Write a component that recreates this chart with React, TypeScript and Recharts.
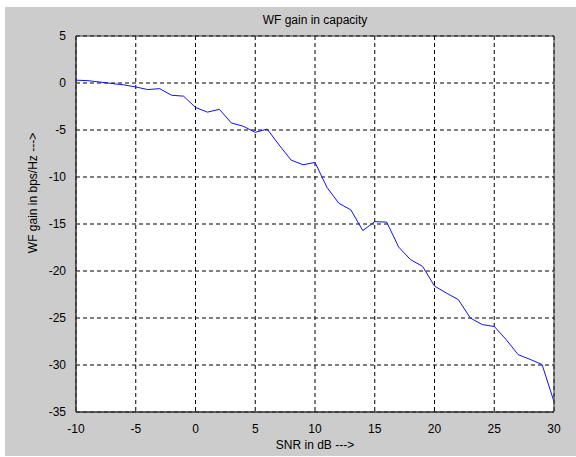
import React from 'react';
import {
  LineChart,
  Line,
  XAxis,
  YAxis,
  CartesianGrid,
  ReferenceArea,
} from 'recharts';

// SNR in dB, 1 dB steps
const snr = [
  -10, -9, -8, -7, -6, -5, -4, -3, -2, -1,
  0, 1, 2, 3, 4, 5, 6, 7, 8, 9,
  10, 11, 12, 13, 14, 15, 16, 17, 18, 19,
  20, 21, 22, 23, 24, 25, 26, 27, 28, 29, 30,
];

// WF gain in bps/Hz
const gain = [
  0.3, 0.25, 0.1, -0.05, -0.2, -0.42, -0.7, -0.6, -1.3, -1.4,
  -2.6, -3.1, -2.8, -4.25, -4.6, -5.25, -4.9, -6.6, -8.2, -8.7,
  -8.45, -11.1, -12.8, -13.5, -15.7, -14.75, -14.8, -17.45, -18.8, -19.5,
  -21.6, -22.35, -23.05, -25.0, -25.7, -25.9, -27.3, -28.9, -29.4, -29.95, -33.9,
];

const xTicks = [-10, -5, 0, 5, 10, 15, 20, 25, 30];
const yTicks = [-35, -30, -25, -20, -15, -10, -5, 0, 5];

const data = snr.map((s, i) => ({ snr: s, gain: gain[i] }));

const font = 'Liberation Sans, Arial, sans-serif';
const tickStyle = { fontSize: 12, fill: '#000', fontFamily: font };

const App: React.FC = () => {
  return (
    <div style={{ position: 'absolute', left: 0, top: 0, width: 576, height: 457, background: '#fff' }}>
      <div style={{ position: 'absolute', left: 5, top: 7, width: 571, height: 449, background: '#cccccc' }} />
      <div style={{ position: 'absolute', left: 0, top: 0 }}>
        <LineChart
          width={576}
          height={457}
          data={data}
          margin={{ top: 36, right: 22, bottom: 15, left: 36 }}
        >
          <CartesianGrid
            stroke="#000"
            strokeDasharray="4 3"
            strokeWidth={1}
            fill="#fff"
            fillOpacity={1}
          />
          <XAxis
            dataKey="snr"
            type="number"
            domain={[-10, 30]}
            ticks={xTicks}
            interval={0}
            height={30}
            stroke="#333"
            tickLine={false}
            tickMargin={6}
            tick={tickStyle}
            allowDataOverflow
          />
          <XAxis
            xAxisId="top"
            dataKey="snr"
            type="number"
            orientation="top"
            domain={[-10, 30]}
            ticks={xTicks}
            height={0}
            mirror
            tick={false}
            tickSize={4}
            stroke="#333"
          />
          <YAxis
            type="number"
            domain={[-35, 5]}
            ticks={yTicks}
            interval={0}
            width={40}
            stroke="#333"
            tickLine={false}
            tickMargin={4}
            tick={tickStyle}
            allowDataOverflow
          />
          <YAxis
            yAxisId="right"
            type="number"
            orientation="right"
            domain={[-35, 5]}
            ticks={yTicks}
            width={0}
            mirror
            tick={false}
            tickSize={4}
            stroke="#333"
          />
          <ReferenceArea
            x1={-10}
            x2={30}
            y1={-35}
            y2={5}
            fill="none"
            fillOpacity={0}
            stroke="#333"
            strokeWidth={1}
          />
          <Line
            type="linear"
            dataKey="gain"
            stroke="#1010ff"
            strokeWidth={1}
            dot={false}
            isAnimationActive={false}
          />
          <text x={315} y={24} textAnchor="middle" fontSize={12} fontFamily={font} fill="#000">
            WF gain in capacity
          </text>
          <text x={315} y={449} textAnchor="middle" fontSize={12} fontFamily={font} fill="#000">
            SNR in dB ---&gt;
          </text>
          <text
            x={37}
            y={193}
            textAnchor="middle"
            fontSize={12}
            fontFamily={font}
            fill="#000"
            transform="rotate(-90 37 193)"
          >
            WF gain in bps/Hz ---&gt;
          </text>
        </LineChart>
      </div>
    </div>
  );
};

export default App;
